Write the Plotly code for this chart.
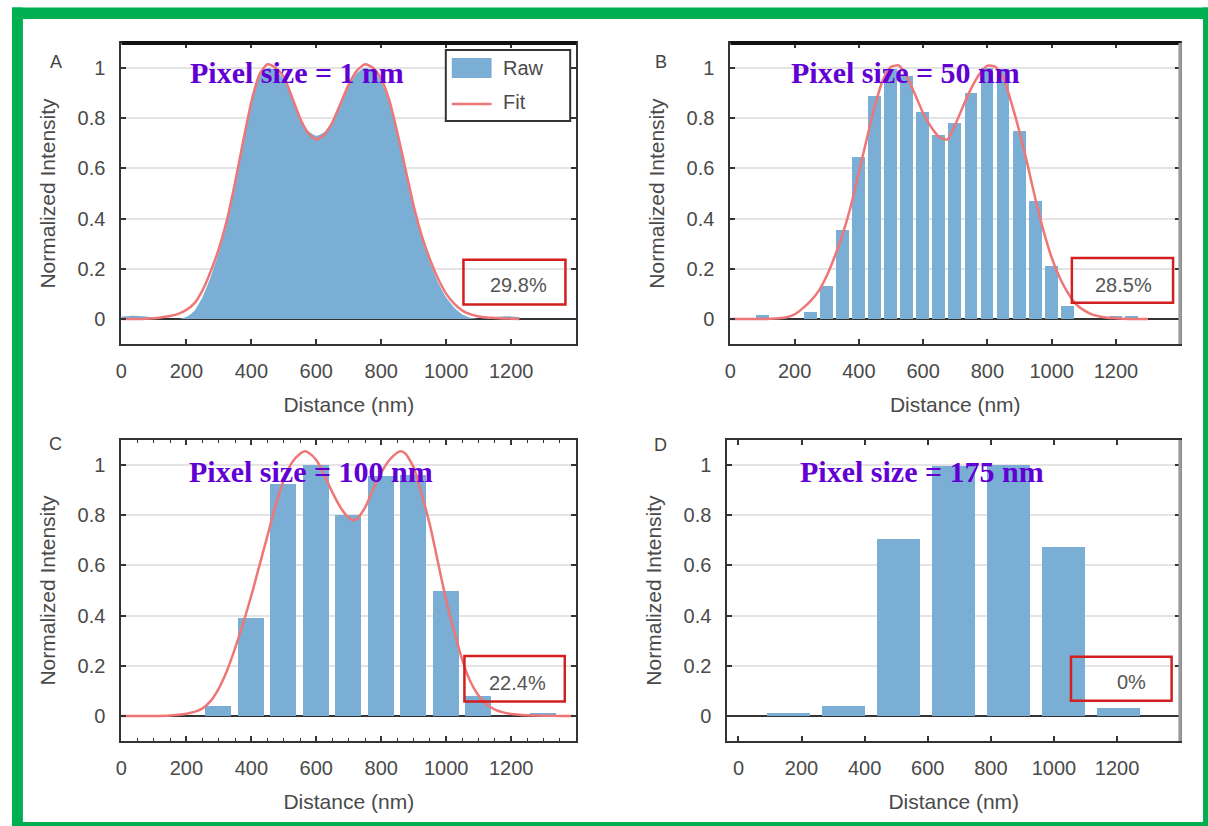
import plotly.graph_objects as go

# ---------------- data ----------------
# Panel A : pixel size 1 nm (raw profile is quasi-continuous)
a_x = [0, 25, 50, 75, 100, 125, 150, 175, 200, 225, 250, 275, 300, 325, 350, 375,
       400, 425, 450, 475, 500, 525, 550, 575, 600, 625, 650, 675, 700, 725, 750,
       775, 800, 825, 850, 875, 900, 925, 950, 975, 1000, 1025, 1050, 1075, 1100,
       1125, 1150, 1175, 1200, 1225]
a_raw = [0.010, 0.012, 0.012, 0.010, 0.005, 0.0, 0.0, 0.0, 0.008, 0.033, 0.088, 0.168,
         0.265, 0.385, 0.535, 0.700, 0.855, 0.965, 1.000, 0.990, 0.955, 0.880, 0.805,
         0.750, 0.730, 0.745, 0.790, 0.860, 0.930, 0.980, 1.000, 0.990, 0.945, 0.860,
         0.730, 0.585, 0.440, 0.320, 0.225, 0.145, 0.085, 0.045, 0.018, 0.005, 0.0,
         0.003, 0.008, 0.010, 0.010, 0.008]
a_fit = [0.0, 0.0, 0.0, 0.001, 0.003, 0.007, 0.012, 0.020, 0.036, 0.063, 0.115, 0.190,
         0.280, 0.395, 0.545, 0.710, 0.865, 0.975, 1.015, 1.000, 0.965, 0.885, 0.800,
         0.740, 0.715, 0.735, 0.785, 0.860, 0.935, 0.990, 1.015, 1.000, 0.955, 0.870,
         0.740, 0.595, 0.450, 0.330, 0.237, 0.160, 0.100, 0.060, 0.033, 0.018, 0.010,
         0.006, 0.004, 0.002, 0.001, 0.0]

# Panel B : pixel size 50 nm
b_bar_x = [100, 250, 300, 350, 400, 450, 500, 550, 600, 650, 700, 750, 800, 850,
           900, 950, 1000, 1050, 1200, 1250]
b_bar_y = [0.017, 0.026, 0.133, 0.356, 0.645, 0.887, 0.995, 0.970, 0.823, 0.735,
           0.780, 0.900, 1.000, 0.995, 0.751, 0.469, 0.212, 0.053, 0.010, 0.010]
b_fit_x = [0, 25, 50, 75, 100, 125, 150, 175, 200, 225, 250, 275, 300, 325, 350, 375,
           400, 425, 450, 475, 500, 525, 550, 575, 600, 625, 650, 675, 700, 725, 750,
           775, 800, 825, 850, 875, 900, 925, 950, 975, 1000, 1025, 1050, 1075, 1100,
           1125, 1150, 1175, 1200, 1225, 1250, 1275, 1300]
b_fit_y = [0.0, 0.0, 0.0, 0.0, 0.0, 0.001, 0.003, 0.007, 0.018, 0.042, 0.072, 0.112,
           0.172, 0.250, 0.340, 0.450, 0.585, 0.720, 0.850, 0.953, 1.005, 1.010, 0.965,
           0.895, 0.820, 0.765, 0.725, 0.715, 0.775, 0.850, 0.920, 0.975, 1.010, 1.005,
           0.960, 0.860, 0.745, 0.615, 0.475, 0.350, 0.245, 0.165, 0.105, 0.060, 0.035,
           0.018, 0.010, 0.005, 0.003, 0.001, 0.0, 0.0, 0.0]

# Panel C : pixel size 100 nm
c_bar_x = [300, 400, 500, 600, 700, 800, 900, 1000, 1100, 1300]
c_bar_y = [0.040, 0.390, 0.925, 1.000, 0.800, 0.955, 0.960, 0.500, 0.080, 0.010]
c_fit_x = [0, 50, 100, 150, 175, 200, 225, 250, 275, 300, 325, 350, 375, 400, 425,
           450, 475, 500, 525, 550, 565, 575, 600, 625, 650, 675, 700, 715, 725, 750,
           775, 800, 825, 850, 860, 875, 900, 925, 950, 975, 1000, 1025, 1050, 1075,
           1100, 1125, 1150, 1175, 1200, 1250, 1300, 1350, 1390]
c_fit_y = [0.0, 0.0, 0.0, 0.002, 0.005, 0.009, 0.016, 0.030, 0.060, 0.110, 0.180,
           0.270, 0.370, 0.480, 0.600, 0.720, 0.840, 0.940, 1.010, 1.045, 1.055, 1.050,
           1.020, 0.960, 0.890, 0.830, 0.790, 0.780, 0.785, 0.830, 0.905, 0.970, 1.020,
           1.050, 1.055, 1.045, 0.990, 0.880, 0.760, 0.610, 0.460, 0.335, 0.220, 0.135,
           0.080, 0.045, 0.025, 0.014, 0.008, 0.003, 0.001, 0.0, 0.0]

# Panel D : pixel size 175 nm
d_bar_x = [160, 334, 508, 683, 857, 1031, 1206]
d_bar_y = [0.012, 0.040, 0.705, 0.995, 1.000, 0.675, 0.030]

# bar widths (nm) for each binned panel
bar_width_b = 40
bar_width_c = 80
bar_width_d = 138

# axis ticks / labels
x_tick_vals = [0, 200, 400, 600, 800, 1000, 1200]
x_tick_text = ["0", "200", "400", "600", "800", "1000", "1200"]
y_tick_vals = [0, 0.2, 0.4, 0.6, 0.8, 1.0]
y_tick_text = ["0", "0.2", "0.4", "0.6", "0.8", "1"]

panel_letters = ["A", "B", "C", "D"]
pixel_labels = ["Pixel size = 1 nm", "Pixel size = 50 nm",
                "Pixel size = 100 nm", "Pixel size = 175 nm"]
percent_labels = ["29.8%", "28.5%", "22.4%", "0%"]
legend_labels = ["Raw", "Fit"]

# ---------------- styling ----------------
W, H = 1208, 826
BAR_BLUE = "#7BAED4"
FIT_RED = "#EF7676"
PURPLE = "#6200D4"
BOX_RED = "#D21F1F"
GREEN = "#00B050"
SANS = "Liberation Sans, Arial, sans-serif"
SERIF = "Liberation Serif, Times New Roman, serif"
TXT = "#4a4a4a"


def px(x):
    return x / W


def py(y):
    return 1 - y / H


fig = go.Figure()

# Panel A
fig.add_trace(go.Scatter(x=a_x, y=a_raw, mode="lines", line=dict(width=0, shape="spline", smoothing=0.6),
                         fill="tozeroy", fillcolor=BAR_BLUE, xaxis="x", yaxis="y",
                         name=legend_labels[0], showlegend=False))
fig.add_trace(go.Scatter(x=a_x, y=a_fit, mode="lines",
                         line=dict(color=FIT_RED, width=2.5, shape="spline", smoothing=0.6),
                         xaxis="x", yaxis="y", name=legend_labels[1], showlegend=False))
# Panel B
fig.add_trace(go.Bar(x=b_bar_x, y=b_bar_y, width=bar_width_b, marker=dict(color=BAR_BLUE, line_width=0),
                     xaxis="x2", yaxis="y2", showlegend=False))
fig.add_trace(go.Scatter(x=b_fit_x, y=b_fit_y, mode="lines",
                         line=dict(color=FIT_RED, width=2.5, shape="spline", smoothing=0.6),
                         xaxis="x2", yaxis="y2", showlegend=False))
# Panel C
fig.add_trace(go.Bar(x=c_bar_x, y=c_bar_y, width=bar_width_c, marker=dict(color=BAR_BLUE, line_width=0),
                     xaxis="x3", yaxis="y3", showlegend=False))
fig.add_trace(go.Scatter(x=c_fit_x, y=c_fit_y, mode="lines",
                         line=dict(color=FIT_RED, width=2.5, shape="spline", smoothing=0.6),
                         xaxis="x3", yaxis="y3", showlegend=False))
# Panel D
fig.add_trace(go.Bar(x=d_bar_x, y=d_bar_y, width=bar_width_d, marker=dict(color=BAR_BLUE, line_width=0),
                     xaxis="x4", yaxis="y4", showlegend=False))

# panel pixel rectangles (left, right, top, bottom) in page pixels
panels = [
    (116, 573, 43, 344),
    (728, 1180, 43, 344),
    (116, 573, 440, 741),
    (725, 1180, 440, 741),
]
x_ranges = [[0, 1400], [0, 1400], [0, 1400], [-35, 1400]]


def xaxis_cfg(i, anchor, minor=False):
    l, r, t, b = panels[i]
    cfg = dict(domain=[px(l), px(r)], anchor=anchor, range=x_ranges[i],
               tickmode="array", tickvals=x_tick_vals, ticktext=x_tick_text,
               ticks="inside", ticklen=5, tickwidth=1.5, tickcolor="#333",
               showline=True, linecolor="#333", linewidth=2, mirror="allticks",
               showgrid=False, zeroline=False,
               tickfont=dict(family=SANS, size=20, color=TXT),
               ticklabelstandoff=8,
               title=dict(text="Distance (nm)", font=dict(family=SANS, size=21, color=TXT), standoff=16))
    if minor:
        cfg["minor"] = dict(dtick=50, tick0=0, ticks="inside", ticklen=3, tickcolor="#333", tickwidth=1)
    return cfg


def yaxis_cfg(i, anchor):
    l, r, t, b = panels[i]
    return dict(domain=[py(b), py(t)], anchor=anchor, range=[-0.1, 1.1],
                tickmode="array", tickvals=y_tick_vals, ticktext=y_tick_text,
                ticks="inside", ticklen=5, tickwidth=1.5, tickcolor="#333",
                showline=True, linecolor="#333", linewidth=2, mirror="allticks",
                showgrid=True, gridcolor="#e4e4e4", gridwidth=1.5,
                zeroline=True, zerolinecolor="#333", zerolinewidth=2,
                tickfont=dict(family=SANS, size=20, color=TXT),
                ticklabelstandoff=10,
                title=dict(text="Normalized Intensity", font=dict(family=SANS, size=21, color=TXT), standoff=16))


layout = dict(
    width=W, height=H, autosize=False,
    margin=dict(l=0, r=0, t=0, b=0, pad=0),
    paper_bgcolor="white", plot_bgcolor="white",
    showlegend=False, bargap=0,
    xaxis=xaxis_cfg(0, "y"), yaxis=yaxis_cfg(0, "x"),
    xaxis2=xaxis_cfg(1, "y2"), yaxis2=yaxis_cfg(1, "x2"),
    xaxis3=xaxis_cfg(2, "y3", minor=True), yaxis3=yaxis_cfg(2, "x3"),
    xaxis4=xaxis_cfg(3, "y4"), yaxis4=yaxis_cfg(3, "x4"),
)
fig.update_layout(**layout)

axis_refs = [("x", "y"), ("x2", "y2"), ("x3", "y3"), ("x4", "y4")]
shapes = []
annotations = []

# red boxes with percentages (data coordinates)
red_boxes = [(1053, 1367, 0.057, 0.236), (1063, 1378, 0.064, 0.243),
             (1056, 1365, 0.057, 0.239), (1054, 1373, 0.060, 0.236)]
pct_pos = [(1221, 0.137), (1223, 0.137), (1218, 0.131), (1246, 0.137)]
pix_pos = [(204, 0.983), (183, 0.983), (201, 0.975), (188, 0.973)]
letter_pos = [(50, 62), (658, 62), (50, 444), (658, 445)]

for i, (xr, yr) in enumerate(axis_refs):
    x0, x1, y0, y1 = red_boxes[i]
    shapes.append(dict(type="rect", xref=xr, yref=yr, x0=x0, x1=x1, y0=y0, y1=y1,
                       line=dict(color=BOX_RED, width=2.5), fillcolor="rgba(0,0,0,0)", layer="above"))
    annotations.append(dict(xref=xr, yref=yr, x=pct_pos[i][0], y=pct_pos[i][1], text=percent_labels[i],
                            showarrow=False, xanchor="center", yanchor="middle",
                            font=dict(family=SANS, size=20, color="#555")))
    annotations.append(dict(xref=xr, yref=yr, x=pix_pos[i][0], y=pix_pos[i][1],
                            text="<b>" + pixel_labels[i] + "</b>", showarrow=False,
                            xanchor="left", yanchor="middle",
                            font=dict(family=SERIF, size=30, color=PURPLE)))
    annotations.append(dict(xref="paper", yref="paper", x=px(letter_pos[i][0]), y=py(letter_pos[i][1]),
                            text=panel_letters[i], showarrow=False, xanchor="center", yanchor="middle",
                            font=dict(family=SANS, size=18, color="#444")))

# thick top frame on upper panels, grey right frame
for xr, yr in [("x", "y"), ("x2", "y2")]:
    shapes.append(dict(type="line", xref=xr + " domain", yref=yr + " domain", x0=0, x1=1, y0=1, y1=1,
                       line=dict(color="#111", width=4)))
for xr, yr in [("x2", "y2"), ("x4", "y4")]:
    shapes.append(dict(type="line", xref=xr + " domain", yref=yr + " domain", x0=1, x1=1, y0=0, y1=1,
                       line=dict(color="#9a9a9a", width=3.5)))

# legend drawn in panel A
shapes.append(dict(type="rect", xref="paper", yref="paper", x0=px(442), x1=px(567), y0=py(121), y1=py(50),
                   line=dict(color="#333", width=2), fillcolor="white", layer="above"))
shapes.append(dict(type="rect", xref="paper", yref="paper", x0=px(448), x1=px(488), y0=py(78), y1=py(58),
                   line=dict(width=0), fillcolor=BAR_BLUE, layer="above"))
shapes.append(dict(type="line", xref="paper", yref="paper", x0=px(448), x1=px(488), y0=py(104), y1=py(104),
                   line=dict(color=FIT_RED, width=2.5), layer="above"))
annotations.append(dict(xref="paper", yref="paper", x=px(497), y=py(68), text=legend_labels[0],
                        showarrow=False, xanchor="left", yanchor="middle",
                        font=dict(family=SANS, size=20, color=TXT)))
annotations.append(dict(xref="paper", yref="paper", x=px(497), y=py(102), text=legend_labels[1],
                        showarrow=False, xanchor="left", yanchor="middle",
                        font=dict(family=SANS, size=20, color=TXT)))

# green frame around the whole figure
for (x0, x1, y0, y1) in [(6, 1208, 7.5, 19), (6, 17, 7.5, 826), (1203, 1208, 7.5, 826), (6, 1208, 822, 826)]:
    shapes.append(dict(type="rect", xref="paper", yref="paper", x0=px(x0), x1=px(x1), y0=py(y1), y1=py(y0),
                       line=dict(width=0), fillcolor=GREEN, layer="above"))

fig.update_layout(shapes=shapes, annotations=annotations)
fig.write_html("out.html")
